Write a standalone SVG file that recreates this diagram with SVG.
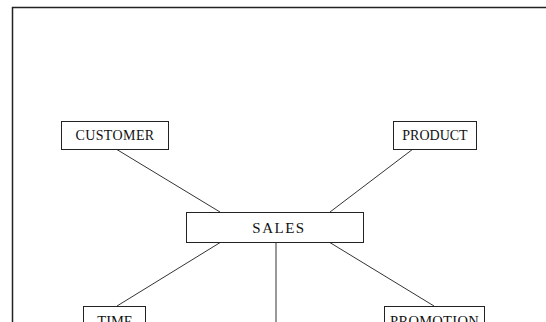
<svg xmlns="http://www.w3.org/2000/svg" width="546" height="322" viewBox="0 0 546 322">
<style>
.box{fill:#fff;stroke:#222;stroke-width:1}
.lbl{font-family:"Liberation Serif","Times New Roman",serif;font-size:14px;fill:#111;text-anchor:middle}
.edge{stroke:#333;stroke-width:1;fill:none}
</style>
<rect width="546" height="322" fill="#fff"/>
<path d="M12.5,322 V7.5 H546" fill="none" stroke="#222" stroke-width="1.5"/>
<g id="connectors">
<line class="edge" x1="116" y1="149" x2="220" y2="212"/>
<line class="edge" x1="413" y1="149" x2="330" y2="212"/>
<line class="edge" x1="221" y1="242" x2="117" y2="306"/>
<line class="edge" x1="276" y1="242" x2="276" y2="322"/>
<line class="edge" x1="329" y1="242" x2="434" y2="306"/>
</g>
<g id="customer">
<rect class="box" x="61.5" y="121.5" width="107" height="28"/>
<text class="lbl" x="115" y="140" letter-spacing="0.4">CUSTOMER</text>
</g>
<g id="product">
<rect class="box" x="393.5" y="121.5" width="83" height="28"/>
<text class="lbl" x="435" y="140">PRODUCT</text>
</g>
<g id="sales">
<rect class="box" x="186.5" y="212.5" width="177" height="30"/>
<text class="lbl" x="279" y="233" style="font-size:15px" letter-spacing="1.5">SALES</text>
</g>
<g id="time">
<rect class="box" x="83.5" y="306.5" width="62" height="34"/>
<text class="lbl" x="115" y="325.5" style="font-size:14.5px">TIME</text>
</g>
<g id="promotion">
<rect class="box" x="384.5" y="306.5" width="100" height="34"/>
<text class="lbl" x="434.5" y="325.5" style="font-size:14.5px" letter-spacing="0.3">PROMOTION</text>
</g>
</svg>
